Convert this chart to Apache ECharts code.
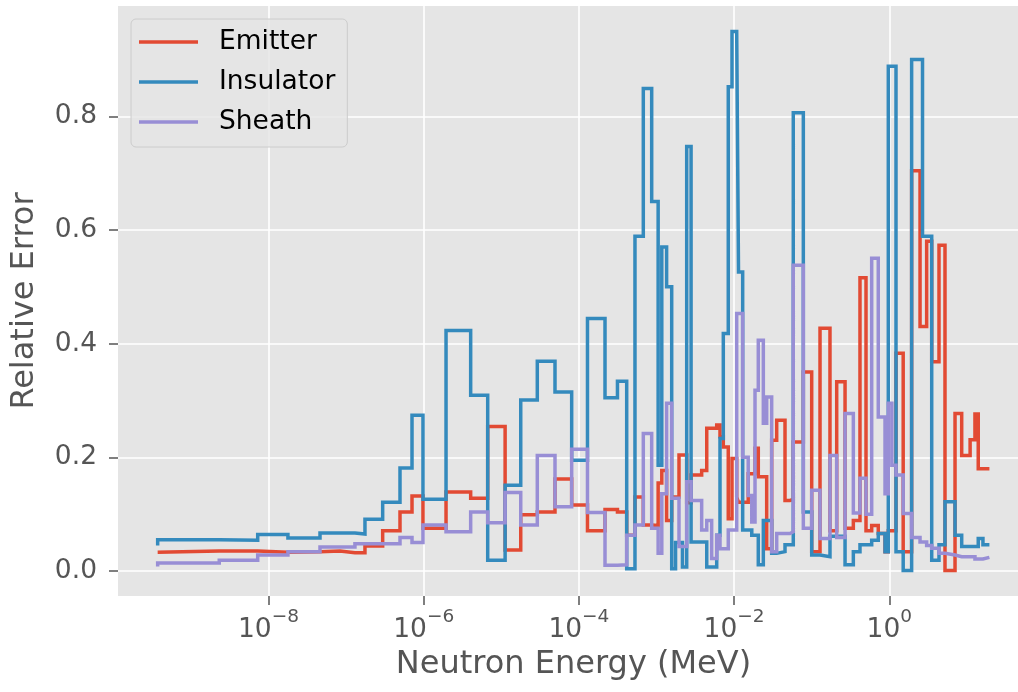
<!DOCTYPE html>
<html><head><meta charset="utf-8">
<script src="https://cdn.jsdelivr.net/npm/echarts@6/dist/echarts.min.js"></script>
<style>html,body{margin:0;padding:0;background:#fff}#c{width:1018px;height:692px}</style>
</head><body><div id="c"></div>
<script>
// Energy group boundaries (MeV)
const energyEdges = [3.73e-10, 2.32e-9, 7.26e-9, 1.78e-8, 4.61e-8, 8.34e-8, 1.30e-7, 1.75e-7, 2.96e-7, 4.95e-7,
  7.07e-7, 9.79e-7, 1.94e-6, 4.03e-6, 6.68e-6, 1.12e-5, 1.78e-5, 2.91e-5, 4.92e-5, 8.07e-5,
  1.29e-4, 2.17e-4, 3.14e-4, 4.13e-4, 5.28e-4, 6.76e-4, 8.67e-4, 1.05e-3, 1.17e-3, 1.35e-3,
  1.57e-3, 1.76e-3, 1.95e-3, 2.16e-3, 2.45e-3, 2.79e-3, 3.82e-3, 4.44e-3, 5.14e-3, 5.97e-3,
  6.58e-3, 7.26e-3, 8.41e-3, 9.40e-3, 1.08e-2, 1.14e-2, 1.29e-2, 1.52e-2, 1.69e-2, 1.86e-2,
  2.05e-2, 2.38e-2, 2.63e-2, 3.05e-2, 3.54e-2, 4.53e-2, 5.25e-2, 5.79e-2, 6.41e-2, 7.80e-2,
  0.1, 0.128, 0.172, 0.210, 0.269, 0.344, 0.419, 0.501, 0.593, 0.721,
  0.881, 0.971, 1.08, 1.22, 1.51, 1.94, 2.49, 2.68, 3.03, 3.52,
  4.37, 5.22, 7.03, 8.57, 11.0, 12.7, 14.0, 16.1, 19.5];

// Value at the very first edge (start of each stepped line)
const startValues = [0.033, 0.045, 0.008];

const emitter = [0.035, 0.035, 0.033, 0.034, 0.035, 0.032, 0.032, 0.044, 0.071, 0.104,
  0.132, 0.075, 0.139, 0.128, 0.254, 0.037, 0.099, 0.104, 0.162, 0.116,
  0.071, 0.108, 0.104, 0.063, 0.130, 0.081, 0.080, 0.155, 0.177, 0.089,
  0.130, 0.130, 0.204, 0.204, 0.120, 0.169, 0.177, 0.251, 0.251, 0.257,
  0.236, 0.218, 0.092, 0.198, 0.130, 0.121, 0.121, 0.171, 0.171, 0.216,
  0.166, 0.166, 0.039, 0.230, 0.265, 0.124, 0.126, 0.227, 0.227, 0.350,
  0.034, 0.427, 0.071, 0.333, 0.075, 0.089, 0.516, 0.071, 0.080, 0.066,
  0.034, 0.071, 0.071, 0.383, 0.034, 0.704, 0.430, 0.430, 0.580, 0.368,
  0.573, 0.001, 0.277, 0.203, 0.231, 0.276, 0.180, 0.180];

const insulator = [0.055, 0.054, 0.064, 0.058, 0.067, 0.067, 0.065, 0.091, 0.121, 0.181,
  0.274, 0.126, 0.423, 0.309, 0.019, 0.151, 0.301, 0.369, 0.315, 0.195,
  0.444, 0.305, 0.334, 0.004, 0.589, 0.849, 0.650, 0.186, 0.570, 0.500,
  0.004, 0.050, 0.050, 0.007, 0.747, 0.051, 0.051, 0.007, 0.007, 0.063,
  0.233, 0.418, 0.852, 0.949, 0.949, 0.526, 0.072, 0.072, 0.063, 0.063,
  0.011, 0.089, 0.089, 0.031, 0.034, 0.046, 0.046, 0.806, 0.806, 0.104,
  0.028, 0.025, 0.061, 0.061, 0.011, 0.034, 0.046, 0.046, 0.054, 0.066,
  0.034, 0.888, 0.888, 0.034, 0.001, 0.900, 0.900, 0.589, 0.589, 0.019,
  0.046, 0.122, 0.063, 0.043, 0.043, 0.043, 0.057, 0.046];

const sheath = [0.014, 0.019, 0.028, 0.034, 0.042, 0.042, 0.048, 0.048, 0.048, 0.059,
  0.050, 0.081, 0.069, 0.104, 0.085, 0.138, 0.081, 0.203, 0.113, 0.214,
  0.103, 0.010, 0.011, 0.063, 0.081, 0.242, 0.075, 0.031, 0.136, 0.295,
  0.128, 0.128, 0.043, 0.043, 0.157, 0.124, 0.072, 0.089, 0.022, 0.063,
  0.039, 0.039, 0.072, 0.072, 0.453, 0.453, 0.200, 0.133, 0.086, 0.318,
  0.406, 0.260, 0.306, 0.034, 0.066, 0.066, 0.069, 0.538, 0.538, 0.075,
  0.142, 0.057, 0.203, 0.059, 0.277, 0.102, 0.163, 0.100, 0.550, 0.271,
  0.136, 0.295, 0.186, 0.169, 0.101, 0.059, 0.051, 0.051, 0.045, 0.040,
  0.031, 0.028, 0.025, 0.025, 0.025, 0.021, 0.021, 0.024];

const seriesNames = ['Emitter', 'Insulator', 'Sheath'];
const xTickExponents = [-8, -6, -4, -2, 0];
const yTicks = [0, 0.2, 0.4, 0.6, 0.8];

const FONT = 'DejaVu Sans';
const colors = ['#E24A33', '#348ABD', '#988ED5'];

function stepPoints(vals, startVal) {
  const pts = [[Math.log10(energyEdges[0]), startVal]];
  vals.forEach((v, i) => pts.push([Math.log10(energyEdges[i]), v]));
  pts.push([Math.log10(energyEdges[energyEdges.length - 1]), vals[vals.length - 1]]);
  return pts;
}

const chart = echarts.init(document.getElementById('c'), null, {renderer: 'canvas'});
const dataSets = [emitter, insulator, sheath];

chart.setOption({
  animation: false,
  backgroundColor: '#ffffff',
  color: colors,
  grid: {left: 118, right: 0, top: 6, bottom: 96, show: true, backgroundColor: '#E5E5E5', borderWidth: 0, containLabel: false},
  legend: {
    orient: 'vertical', left: 131, top: 19,
    data: seriesNames,
    icon: 'rect', itemWidth: 59, itemHeight: 3.5, itemGap: 10,
    padding: [8, 12, 10, 8],
    backgroundColor: 'rgba(229,229,229,0.8)', borderColor: '#CCCCCC', borderWidth: 1, borderRadius: 5,
    textStyle: {fontFamily: FONT, fontSize: 26.5, color: '#000', lineHeight: 30, padding: [0, 0, 0, 16]}
  },
  xAxis: {
    type: 'value', min: -9.9394, max: 1.6585,
    name: 'Neutron Energy (MeV)', nameLocation: 'middle', nameGap: 53,
    nameTextStyle: {fontFamily: FONT, fontSize: 32, color: '#555555', padding: [0, 0, 0, 11]},
    axisLine: {show: false, onZero: false},
    axisTick: {show: true, customValues: xTickExponents, length: 9, lineStyle: {color: '#555555', width: 1.5}},
    splitLine: {show: true, lineStyle: {color: '#ffffff', width: 1.6}},
    axisLabel: {
      customValues: xTickExponents, margin: 12,
      formatter: v => '{b|10}{s|' + (v < 0 ? '\u2212' + (-v) : String(v)) + '}',
      rich: {
        b: {fontFamily: FONT, fontSize: 26.5, color: '#555555', verticalAlign: 'bottom', lineHeight: 36},
        s: {fontFamily: FONT, fontSize: 18.5, color: '#555555', verticalAlign: 'top', lineHeight: 18}
      }
    }
  },
  yAxis: {
    type: 'value', min: -0.044, max: 0.994,
    name: 'Relative Error', nameLocation: 'middle', nameGap: 77,
    nameTextStyle: {fontFamily: FONT, fontSize: 32, color: '#555555'},
    axisLine: {show: false, onZero: false},
    axisTick: {show: true, customValues: yTicks, length: 9, lineStyle: {color: '#555555', width: 1.5}},
    splitLine: {show: true, lineStyle: {color: '#ffffff', width: 1.6}},
    axisLabel: {customValues: yTicks, margin: 21, fontFamily: FONT, fontSize: 26.5, color: '#555555', formatter: v => v.toFixed(1)}
  },
  series: seriesNames.map((name, k) => ({
    name: name, type: 'line', step: 'end', showSymbol: false, symbol: 'none',
    data: stepPoints(dataSets[k], startValues[k]),
    lineStyle: {width: 3.5, color: colors[k], join: 'miter', cap: 'butt'},
    z: 2 + k
  }))
});
</script>
</body></html>
